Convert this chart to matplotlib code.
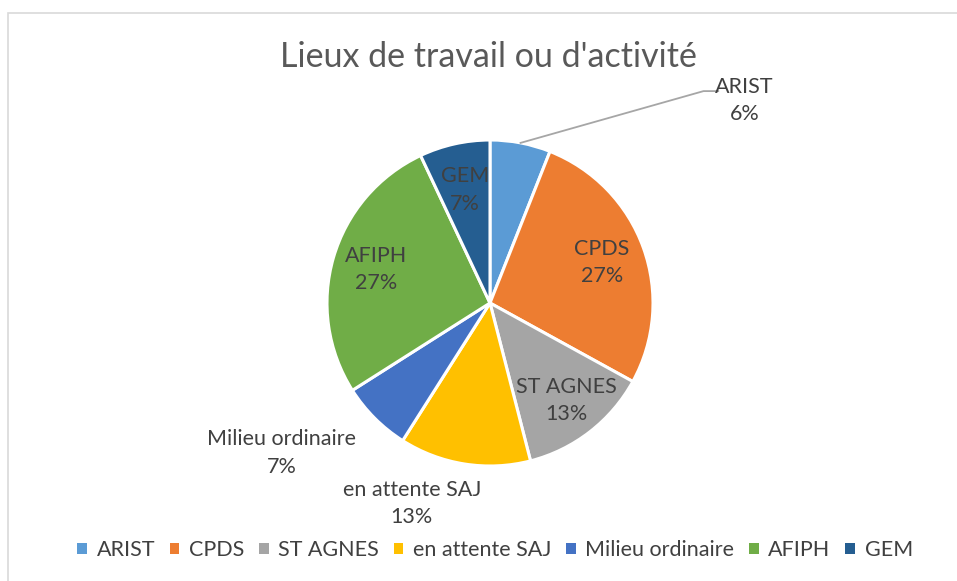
import numpy as np
import matplotlib.pyplot as plt
from matplotlib.patches import Patch, Rectangle
from matplotlib.lines import Line2D

labels = ['ARIST', 'CPDS', 'ST AGNES', 'en attente SAJ', 'Milieu ordinaire', 'AFIPH', 'GEM']
shares = [6, 27, 13, 13, 7, 27, 7]
colors = ['#5b9bd5', '#ed7d31', '#a5a5a5', '#ffc000', '#4472c4', '#70ad47', '#255e91']

W, H = 957, 581
plt.rcParams['font.family'] = ['Lato', 'DejaVu Sans']
fig = plt.figure(figsize=(W / 100, H / 100), dpi=100)

# chart area border (only top and left visible in the crop)
fig.patches.append(Rectangle((8 / W, -0.1), 1.2, (H - 13) / H + 0.1, transform=fig.transFigure,
                             fill=False, edgecolor='#d9d9d9', linewidth=1.2))

# pie centre ~ (490, 303) px, radius ~ 163 px
cx, cy, r = 490, 303, 163
ax = fig.add_axes([(cx - r) / W, (H - cy - r) / H, 2 * r / W, 2 * r / H])
wedges, _ = ax.pie(shares, colors=colors, startangle=90, counterclock=False,
                   wedgeprops=dict(edgecolor='white', linewidth=2.2))
ax.set_xlim(-1, 1)
ax.set_ylim(-1, 1)
ax.set_aspect('equal')
ax.axis('off')

txt_color = '#404040'
fs = 15.5
# inside labels: radial distance; outside labels: fixed offsets in data units
inside = {'CPDS': 0.73, 'ST AGNES': 0.76, 'AFIPH': 0.73, 'GEM': 0.71}
outside = {'ARIST': (1.56, 1.24), 'Milieu ordinaire': (-1.28, -0.92), 'en attente SAJ': (-0.48, -1.23)}

for w, lab, val in zip(wedges, labels, shares):
    mid = np.deg2rad((w.theta1 + w.theta2) / 2)
    s = f'{lab}\n{val}%'
    if lab in inside:
        d = inside[lab]
        x, y = d * np.cos(mid), d * np.sin(mid)
    else:
        x, y = outside[lab]
        if lab == 'ARIST':
            ex, ey = np.cos(mid), np.sin(mid)
            ax.add_line(Line2D([ex, 1.31, 1.40], [ey, 1.30, 1.30], color='#a6a6a6',
                               linewidth=1.3, clip_on=False))
    ax.text(x, y, s, ha='center', va='center', fontsize=fs, color=txt_color,
            linespacing=1.45, clip_on=False)

fig.text(488 / W, 1 - 57 / H, "Lieux de travail ou d'activité", ha='center', va='center',
         fontsize=24.5, color='#595959')

handles = [Patch(facecolor=c, edgecolor='none') for c in colors]
fig.legend(handles, labels, loc='center', bbox_to_anchor=(495 / W, 1 - 550 / H), ncol=7,
           frameon=False, fontsize=15.5, handlelength=0.45, handleheight=0.45,
           handletextpad=0.45, columnspacing=0.68, labelcolor=txt_color)

fig.savefig('out.png', dpi=100)
